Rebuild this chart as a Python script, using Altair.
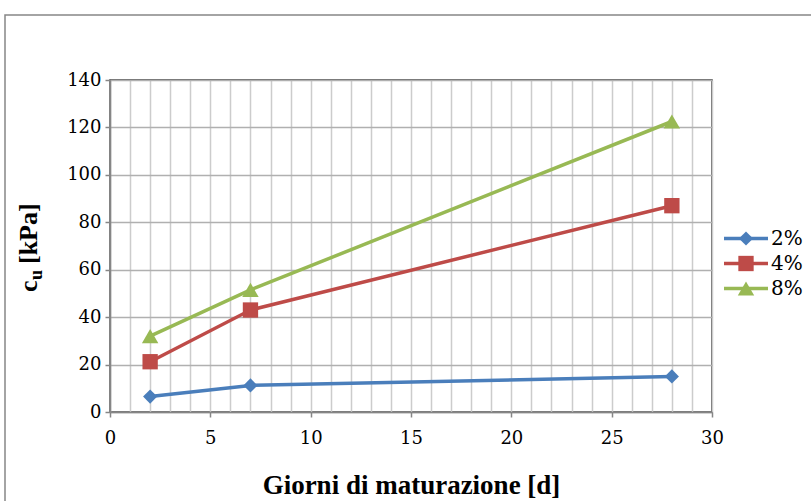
import altair as alt
import pandas as pd

# Curing time (days) and undrained shear strength cu (kPa) per lime content
days = [2, 7, 28]
series = ["2%", "4%", "8%"]
cu_2 = [6.5, 11.2, 15.0]
cu_4 = [21.2, 43.0, 87.0]
cu_8 = [32.0, 51.5, 122.5]
colors = ["#4A7EBB", "#BE4B48", "#98B954"]
shapes = ["diamond", "square", "triangle-up"]
marker_sizes = [200, 270, 270]
x_ticks = list(range(0, 31))
y_ticks = list(range(0, 141, 20))

rows = []
for name, vals in zip(series, [cu_2, cu_4, cu_8]):
    for d, v in zip(days, vals):
        rows.append({"giorni": d, "cu": v, "serie": name})
df = pd.DataFrame(rows)
leg = pd.DataFrame({"serie": series})

FONT = "Liberation Serif"
LABEL_FONT = "DejaVu Serif"
W, H = 602, 332

color = alt.Color("serie:N", scale=alt.Scale(domain=series, range=colors), legend=None)
shape = alt.Shape("serie:N", scale=alt.Scale(domain=series, range=shapes), legend=None)
size = alt.Size("serie:N", scale=alt.Scale(domain=series, range=marker_sizes), legend=None)

x = alt.X(
    "giorni:Q",
    scale=alt.Scale(domain=[0, 30], nice=False),
    axis=alt.Axis(
        values=x_ticks,
        grid=True,
        gridColor="#cccccc",
        gridWidth=1.5,
        labelExpr="datum.value % 5 == 0 ? datum.label : ''",
        tickOpacity={"condition": {"test": "datum.value % 5 == 0", "value": 1}, "value": 0},
        labelOverlap=False,
        labelFlush=False,
        tickSize=5,
        labelPadding=12,
        title="Giorni di maturazione [d]",
        titlePadding=25,
    ),
)
y = alt.Y(
    "cu:Q",
    scale=alt.Scale(domain=[0, 140], nice=False),
    axis=alt.Axis(
        values=y_ticks,
        grid=True,
        gridColor="#b0b0b0",
        gridWidth=1.5,
        tickSize=5,
        labelPadding=4,
        labelFlush=False,
        title=None,
    ),
)

base = alt.Chart(df).encode(x=x, y=y, color=color)
lines = base.mark_line(strokeWidth=3.5)
points = base.mark_point(filled=True, opacity=1).encode(shape=shape, size=size)
plot = alt.layer(lines, points)

# Legend: line + marker + label for each series
ly = alt.Y("serie:N", scale=alt.Scale(domain=series, range=[146, 221], padding=0), axis=None)
leg_line = alt.Chart(leg).mark_rule(strokeWidth=3.5).encode(
    x=alt.value(614), x2=alt.value(658), y=ly, color=color
)
leg_pt = alt.Chart(leg).mark_point(filled=True, opacity=1).encode(
    x=alt.value(636), y=ly, color=color, shape=shape, size=size
)
leg_txt = alt.Chart(leg).mark_text(
    align="left", baseline="middle", font=LABEL_FONT, fontSize=20, color="black"
).encode(x=alt.value(661), y=ly, text="serie:N")
legend = alt.layer(leg_line, leg_pt, leg_txt)

# Y-axis title "c_u [kPa]" with subscript u
one = pd.DataFrame({"k": [0]})
ytitle_c = alt.Chart(one).mark_text(
    text="c", angle=270, align="left", baseline="alphabetic",
    font=FONT, fontSize=26, fontWeight="bold", color="black"
).encode(x=alt.value(-73), y=alt.value(212))
ytitle_u = alt.Chart(one).mark_text(
    text="u", angle=270, align="left", baseline="alphabetic",
    font=FONT, fontSize=18, fontWeight="bold", color="black"
).encode(x=alt.value(-68), y=alt.value(200))
ytitle_rest = alt.Chart(one).mark_text(
    text="[kPa]", angle=270, align="left", baseline="alphabetic",
    font=FONT, fontSize=26, fontWeight="bold", color="black"
).encode(x=alt.value(-73), y=alt.value(184))

# Outer chart frame
frame = alt.Chart(one).mark_rect(
    fill="transparent", stroke="#868686", strokeWidth=1.5
).encode(x=alt.value(-105), x2=alt.value(720), y=alt.value(-65), y2=alt.value(440))

chart = (
    alt.layer(frame, plot, legend, ytitle_c, ytitle_u, ytitle_rest)
    .resolve_scale(y="independent")
    .properties(
        width=W,
        height=H,
        padding={"left": 110, "top": 80, "right": 99, "bottom": 89},
        autosize=alt.AutoSizeParams(type="none"),
        background="white",
    )
    .configure_view(stroke="#3a3a3a", strokeWidth=1.5)
    .configure_axis(
        domainColor="#868686",
        domainWidth=1.5,
        tickColor="#868686",
        tickWidth=1.5,
        labelFont=LABEL_FONT,
        labelFontSize=18,
        labelColor="black",
        titleFont=FONT,
        titleFontSize=27,
        titleFontWeight="bold",
        titleColor="black",
    )
)

chart.save("out.html", embed_options={"renderer": "svg", "actions": False})
